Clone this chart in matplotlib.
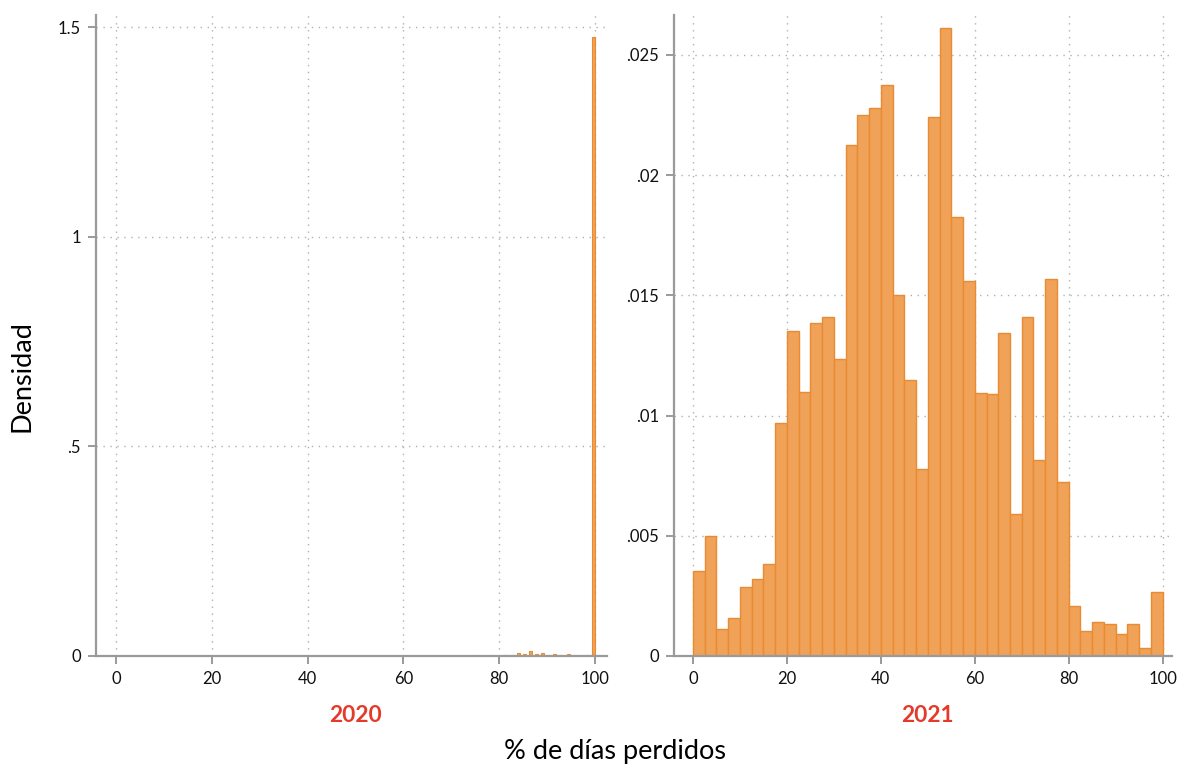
import matplotlib
matplotlib.use("Agg")
from matplotlib import pyplot as plt
import matplotlib.transforms as mtransforms

# 2020 panel: narrow bins, almost everything at 100
x20 = [75.3, 77.0, 78.4, 79.7, 81.0, 81.6, 82.9, 84.0, 85.3, 86.6,
       87.7, 89.0, 90.2, 91.5, 92.8, 94.4, 95.5, 96.9, 98.2, 99.65]
d20 = [.0016, .001, .0016, .001, .002, .003, .002, .008, .004, .011,
       .005, .007, .003, .004, .003, .0056, .002, .0024, .002, 1.477]
w20 = 0.67

# 2021 panel: bins of width 2.5 from 0 to 100
edges21 = [2.5 * i for i in range(40)]
d21 = [.00354, .00499, .00112, .00157, .00286, .00319, .00384, .0097,
       .01352, .01098, .01385, .0141, .01235, .02127, .0225, .0228,
       .02375, .0150, .01148, .00779, .0224, .02612, .01827, .0156,
       .01093, .01089, .01342, .00589, .01411, .00815, .01567, .00725,
       .00208, .00102, .0014, .00132, .0009, .00134, .00032, .00265]
w21 = 2.5

xticks = [0, 20, 40, 60, 80, 100]
yticks20 = [0, 0.5, 1, 1.5]
ylabels20 = ["0", ".5", "1", "1.5"]
yticks21 = [0, .005, .01, .015, .02, .025]
ylabels21 = ["0", ".005", ".01", ".015", ".02", ".025"]

face = "#F0A258"
edge = "#E98B33"
axcol = "#9a9a9a"
red = "#E5392A"

plt.rcParams["font.family"] = ["Lato", "DejaVu Sans"]

fig = plt.figure(figsize=(11.77, 7.66), dpi=100)
ax1 = fig.add_axes([96 / 1177, 1 - 656 / 766, 511 / 1177, 641 / 766])
ax2 = fig.add_axes([674 / 1177, 1 - 656 / 766, 498 / 1177, 641 / 766])


def style(ax, yt, yl):
    ax.set_xticks(xticks)
    ax.set_xticklabels([str(t) for t in xticks])
    ax.set_yticks(yt)
    ax.set_yticklabels(yl)
    for s in ["top", "right"]:
        ax.spines[s].set_visible(False)
    for s in ["left", "bottom"]:
        ax.spines[s].set_color(axcol)
        ax.spines[s].set_linewidth(1.6)
    ax.tick_params(axis="both", colors=axcol, length=6, width=1.4,
                   labelsize=12, labelcolor="#111111", pad=5)
    ax.grid(True, linestyle=(0, (1, 4)), color="#b0b0b0", linewidth=1)
    ax.set_axisbelow(True)


ax1.bar(x20, d20, width=w20, color=face, edgecolor=edge, linewidth=0.8)
ax1.set_xlim(-4.2, 102.5)
ax1.set_ylim(0, 1.529)
style(ax1, yticks20, ylabels20)

ax2.bar(edges21, d21, width=w21, align="edge", color=face, edgecolor=edge,
        linewidth=1)
ax2.set_xlim(-4.05, 102.0)
ax2.set_ylim(0, 0.02666)
style(ax2, yticks21, ylabels21)

for ax, lab in [(ax1, "2020"), (ax2, "2021")]:
    tr = mtransforms.blended_transform_factory(ax.transData, fig.transFigure)
    ax.text(50, 1 - 716 / 766, lab, transform=tr, ha="center", va="center",
            color=red, fontsize=16.3, fontweight="bold")

fig.text(615 / 1177, 1 - 751 / 766, "% de días perdidos", ha="center",
         va="center", fontsize=19.5)
fig.text(22 / 1177, 1 - 376 / 766, "Densidad", ha="center", va="center",
         rotation=90, fontsize=19.5)

fig.savefig("out.png", dpi=100)
